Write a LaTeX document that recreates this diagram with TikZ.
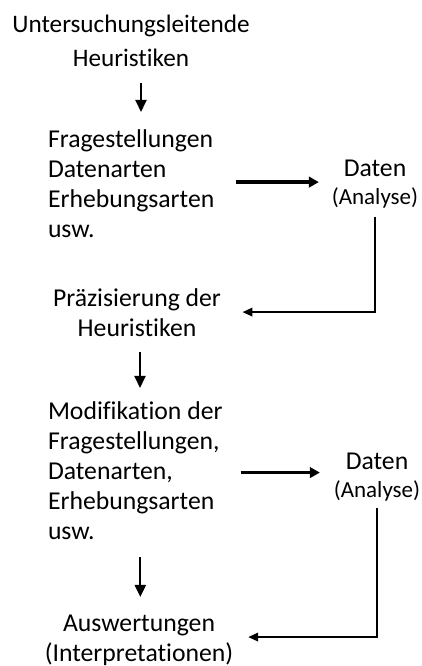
\documentclass[tikz,border=0pt]{standalone}
\usepackage{fontspec}
\setmainfont{Carlito}[Ligatures=NoCommon]
\usetikzlibrary{arrows.meta,calc}
\newcommand\lnstrut{\rule{0pt}{20pt}}
\begin{document}
\begin{tikzpicture}[x=1pt,y=1pt,
  txt/.style={inner sep=0pt, outer sep=0pt, font=\fontsize{25.7}{30}\selectfont},
  ctxt/.style={txt, align=center, anchor=north},
  ltxt/.style={txt, align=left, anchor=north west},
  downarr/.style={line width=2pt, -{Triangle[length=12pt,width=11pt]}},
  rightarr/.style={line width=3.2pt, -{Triangle[length=10pt,width=10.5pt]}},
  backarr/.style={line width=2pt, -{Triangle[length=10pt,width=8.5pt]}}]
\fill[white] (0,0) rectangle (422,666);
\useasboundingbox (0,0) rectangle (422,666);

\node[ctxt, font=\fontsize{25.2}{34}\selectfont] (b1) at (131,653) {\lnstrut Untersuchungsleitende\\Heuristiken};
\node[ltxt] (b2) at (48,538) {\lnstrut Fragestellungen\\Datenarten\\Erhebungsarten\\usw.};
\node[ctxt] (d1) at (375,509) {\lnstrut Daten\\[-2pt]{\fontsize{23}{30}\selectfont (Analyse)}};
\node[ctxt] (b3) at (137,379) {\lnstrut Präzisierung der\\Heuristiken};
\node[ltxt] (b4) at (48,266) {\lnstrut Modifikation der\\Fragestellungen,\\Datenarten,\\Erhebungsarten\\usw.};
\node[ctxt] (d2) at (377,216) {\lnstrut Daten\\[-2pt]{\fontsize{23}{30}\selectfont (Analyse)}};
\node[ctxt] (b5) at (139,55) {\lnstrut Auswertungen\\(Interpretationen)};

\draw[downarr] ($(b1.south)+(10pt,-16pt)$) -- ($(b1.south |- b2.north)+(10pt,16pt)$);
\draw[rightarr] ($(b2.east)+(22pt,1pt)$) -- ($(b2.east -| d1.west)+(-13pt,1pt)$);
\draw[backarr] ($(d1.south)+(0,-8pt)$) |- ($(b3.east)+(21.5pt,0)$);
\draw[downarr] ($(b3.south)+(3pt,-15pt)$) -- ($(b3.south |- b4.north)+(3pt,12pt)$);
\draw[rightarr] ($(b4.east)+(18pt,-2.5pt)$) -- ($(b4.east -| d2.west)+(-14pt,-2.5pt)$);
\draw[backarr] ($(d2.south)+(0,-6pt)$) |- ($(b5.east)+(15pt,1pt)$);
\draw[downarr] ($(b4.south)+(5pt,-17pt)$) -- ($(b4.south |- b5.north)+(5pt,14pt)$);
\end{tikzpicture}
\end{document}
